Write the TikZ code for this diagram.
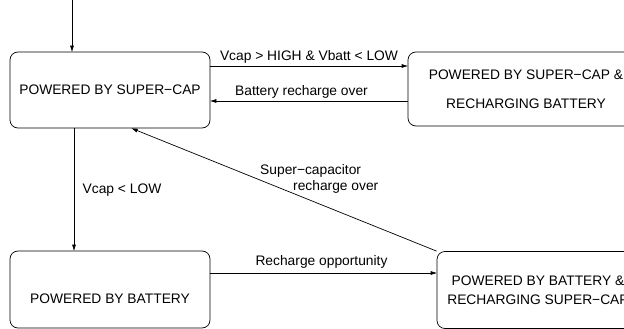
\documentclass[tikz,border=0pt]{standalone}
\usepackage{fontspec}
\setmainfont{Liberation Sans}
\usetikzlibrary{arrows.meta}
\begin{document}
\begin{tikzpicture}[x=1pt,y=-1pt,
  every node/.style={font=\fontsize{13.8}{16}\selectfont, inner sep=0pt},
  statebox/.style={draw, line width=0.7pt, rounded corners=8pt, align=center},
  arr/.style={line width=0.7pt, -{Triangle[length=6pt,width=3.6pt]}},
  lbl/.style={anchor=center}]
\useasboundingbox (0,0) rectangle (624,329);
\clip (0,0) rectangle (624,329);
\node[statebox, minimum width=200pt, minimum height=76pt] (b1) at (110,90) {POWERED BY SUPER−CAP};
\node[statebox, minimum width=236pt, minimum height=74pt,
      font=\fontsize{13.8}{29}\selectfont] (b2) at (526,89) {POWERED BY SUPER−CAP \&\\RECHARGING BATTERY};
\node[statebox, minimum width=200pt, minimum height=77pt, text height=33pt, text depth=5pt] (b3) at (110,289.5) {POWERED BY BATTERY};
\node[statebox, minimum width=202pt, minimum height=77pt,
      font=\fontsize{13.8}{19}\selectfont] (b4) at (538,290) {POWERED BY BATTERY \&\\RECHARGING SUPER−CAP};
\coordinate (start) at (72,0);
\draw[arr] (start) -- (start |- b1.north);
\draw[arr] ([xshift=-36pt]b1.south) -- ([xshift=-36pt]b1.south |- b3.north);
\draw[arr] ([yshift=24pt]b1.east) -- ([yshift=24pt]b1.east -| b2.west);
\draw[arr] ([yshift=-12pt]b2.west) -- ([yshift=-12pt]b2.west -| b1.east);
\draw[arr] ([yshift=16.5pt]b3.east) -- ([yshift=16.5pt]b3.east -| b4.west);
\draw[arr] (b4.north west) -- ([xshift=122pt]b1.south west);
\node[lbl] (l1) at (309,57) {Vcap > HIGH \& Vbatt < LOW};
\node[lbl] (l2) at (301.5,92) {Battery recharge over};
\node[lbl] (l3) at (122,190) {Vcap < LOW};
\node[lbl] (l4) at (321.5,262) {Recharge opportunity};
\node[anchor=west, align=left, font=\fontsize{13.8}{15.5}\selectfont] (l5) at (260,179) {Super−capacitor\\\hspace*{33pt}recharge over};
\end{tikzpicture}
\end{document}
